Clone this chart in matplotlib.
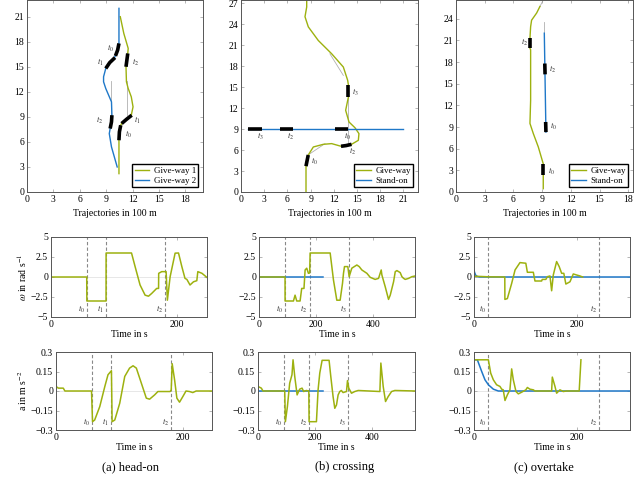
import numpy as np
import matplotlib.pyplot as plt
from matplotlib.transforms import offset_copy

plt.rcParams['font.family'] = ['Liberation Serif', 'DejaVu Serif']
plt.rcParams['mathtext.fontset'] = 'stix'
plt.rcParams['font.size'] = 7

GREEN = '#9db10f'
BLUE = '#1f78c8'
FRAME = '#555555'
W, H = 640, 482

# ---- trajectories (units of 100 m) ----
# head-on
hd_gw1_x = [10.45, 10.45, 10.5, 10.65, 10.75, 11.3, 11.85, 12.05, 11.85, 11.5, 11.3, 11.25, 11.35, 11.45, 11.5, 11.0, 10.6]
hd_gw1_y = [2.2, 6.2, 7.2, 8.0, 8.2, 8.7, 9.2, 10.2, 11.4, 12.4, 13.2, 15.0, 15.8, 16.6, 17.2, 19.0, 21.0]
hd_gw2_x = [10.45, 10.45, 10.3, 10.0, 9.4, 8.95, 8.7, 8.7, 8.95, 9.6, 9.65, 9.6, 9.45, 9.35, 9.6, 10.25]
hd_gw2_y = [22.0, 17.8, 17.0, 16.2, 15.5, 14.8, 13.8, 13.2, 12.4, 10.8, 9.2, 8.4, 7.6, 7.0, 5.4, 3.0]
hd_black = [([10.45, 10.5, 10.65], [6.2, 7.2, 8.0]),
            ([10.75, 11.3, 11.9], [8.2, 8.7, 9.2]),
            ([11.25, 11.35, 11.45], [15.0, 15.8, 16.6]),
            ([10.45, 10.3, 10.05], [17.8, 17.0, 16.3]),
            ([10.0, 9.4, 8.95], [16.1, 15.5, 14.8]),
            ([9.65, 9.6, 9.45], [9.2, 8.4, 7.6])]
hd_gray = [([9.5, 9.5], [9.0, 13.3]), ([11.35, 11.35], [9.2, 13.3])]
hd_tlabels = [(9.5, 17.2, 0), (8.3, 15.5, 1), (12.35, 15.5, 2),
              (8.3, 8.6, 2), (12.5, 8.6, 1), (11.5, 6.9, 0)]

# crossing
cr_gw_x = [8.41, 8.41, 8.55, 8.7, 9.36, 10.65, 11.73, 12.94, 13.6, 14.3, 15.18, 15.26, 14.75, 13.97, 13.54, 13.8, 13.9, 13.9, 13.8, 13.24, 11.73, 10.0, 8.71, 8.28, 8.5, 8.5]
cr_gw_y = [0.0, 3.7, 4.5, 5.3, 6.45, 6.83, 6.93, 6.55, 6.65, 6.83, 7.4, 8.36, 9.2, 10.03, 11.7, 13.1, 13.6, 15.3, 16.0, 17.9, 19.8, 21.7, 23.65, 25.1, 26.5, 27.5]
cr_so_x = [0.95, 21.0]
cr_so_y = [9.0, 9.0]
cr_black = [([8.41, 8.55, 8.7], [3.7, 4.5, 5.3]),
            ([12.94, 13.6, 14.3], [6.55, 6.65, 6.83]),
            ([13.9, 13.9], [13.6, 15.3]),
            ([0.95, 2.67], [9.0, 9.0]),
            ([5.05, 6.77], [9.0, 9.0]),
            ([12.16, 13.9], [9.0, 9.0])]
cr_gray = [([8.62, 10.87], [5.26, 6.93]), ([13.9, 13.9], [6.9, 13.6]),
           ([11.5, 13.24], [19.8, 16.7])]
cr_tlabels = [(2.46, 7.98, 3), (6.47, 8.0, 2), (13.8, 8.0, 0),
              (9.57, 4.44, 0), (14.45, 5.88, 2), (14.83, 14.2, 3)]

# overtake
ov_gw_x = [9.12, 9.12, 9.12, 8.6, 8.08, 7.73, 7.8, 7.8, 7.73, 7.73, 7.8, 7.9, 8.43, 8.77]
ov_gw_y = [0.46, 2.3, 3.9, 6.25, 8.1, 9.5, 12.7, 19.7, 19.9, 21.3, 22.9, 23.8, 24.8, 25.7]
ov_so_x = [9.23, 9.4]
ov_so_y = [22.0, 8.3]
ov_black = [([9.12, 9.12], [2.3, 3.9]),
            ([7.73, 7.73], [19.9, 21.3]),
            ([9.28, 9.31], [17.8, 16.3]),
            ([9.37, 9.4], [9.7, 8.3])]
ov_gray = [([8.77, 9.12], [25.7, 26.6]), ([9.23, 9.23], [22.0, 23.6])]
ov_tlabels = [(7.2, 20.7, 2), (10.1, 17.0, 2), (10.17, 9.1, 0), (10.0, 2.9, 0)]

# ---- yaw rate omega (rad/s) ----
hd_w_t = [0, 56.8, 57, 87.5, 87.6, 128, 133.7, 141.6, 149.6, 155, 160, 168, 171, 171.2, 176, 183, 185, 189.4, 197.3, 202.7, 208, 213, 216, 221, 226.5, 231.8, 233.4, 240, 247.7]
hd_w = [0, 0, -3, -3, 3, 3, 1.3, -1, -2.27, -2.4, -2.06, -1.43, -1.43, 0.46, 0.67, 0.67, -2.9, 0.04, 2.98, 3.0, 1.3, -0.17, -0.3, -1.0, -0.6, -0.46, 0.67, 0.46, -0.04]

cr_w_t = [0, 91.5, 91.6, 121, 126.7, 132.6, 144.3, 150, 158, 162, 167.7, 173.6, 178, 179.6, 250, 261.6, 273.3, 285, 293.3, 296.8, 300.3, 312, 316.7, 326, 343.7, 352, 361.3, 379, 390.6, 408, 420, 429.3, 431.7, 443.4, 455, 461, 472.7, 478.6, 484.5, 496, 502, 508, 513.8, 525.5, 537, 549]
cr_w = [0, 0, -3, -3, -2.27, -3, -3, -1.43, -1.43, 0.88, 1.1, 0.46, 0.5, 3, 3, -0.38, -2.9, -2.9, -0.8, 0.46, 1.3, 1.3, 0.04, 1.1, 1.5, 1.3, 0.88, 0.46, -0.04, -0.3, -0.17, 0.88, 0.25, -1.22, -2.8, -2.27, -0.6, 0.67, 0.8, 0.55, 0.04, -0.17, -0.3, -0.17, 0.04, 0.13]
cr_w_so_t = [0, 226]
cr_w_so = [0, 0]

ov_w_so_t = [0, 1, 3, 6, 10, 304]
ov_w_so = [0.88, 0.6, 0.25, 0.08, 0, 0]
ov_w_t = [0, 30, 60, 60.2, 65, 73.4, 80, 89.6, 101, 104, 115.6, 118.8, 131.8, 133, 140, 143, 148, 151.3, 154.5, 161, 166, 170.8, 175, 179, 187, 193.5, 200, 206.5, 211.7]
ov_w = [0.1, 0.02, 0, -2.8, -2.7, -0.8, 0.88, 1.8, 1.72, 0.59, 0.59, -0.5, -0.5, -0.3, -0.3, 0.04, 0.13, -1.72, 0.25, 1.93, 1.3, 0.46, 0.46, -0.88, -0.6, 0.38, 0.25, 0.13, 0]

# ---- acceleration (m/s^2) ----
hd_a_t = [0, 3.7, 11.5, 14, 56, 57.6, 61, 69, 77, 82, 87.4, 88.5, 92.7, 100.5, 108.4, 116, 121.5, 126.7, 134.6, 142.4, 147.6, 155.5, 160.7, 180, 181.7, 183.2, 187, 190.6, 194.8, 200, 205, 210.5, 215.7, 221, 245.5]
hd_a = [0.035, 0.022, 0.022, 0, 0, -0.236, -0.223, -0.12, 0.035, 0.125, 0.156, -0.236, -0.223, -0.094, 0.112, 0.176, 0.194, 0.176, 0.06, -0.055, -0.063, -0.03, -0.004, -0.004, 0.009, 0.21, 0.086, -0.055, -0.086, -0.043, 0, -0.004, -0.012, 0, 0]

cr_a_t = [0, 11.7, 17.5, 93.6, 96, 103, 111, 119, 122.8, 128.7, 137, 146, 154.4, 160, 169.6, 178, 179, 204.7, 210.5, 216.4, 224.6, 249, 255, 263, 269, 275, 280.7, 286.5, 292, 298, 310, 313.5, 318, 327.5, 339, 351, 427, 430.4, 438.6, 446.8, 456, 468, 479.5, 550]
cr_a = [0.035, 0.022, 0, 0, -0.236, -0.12, 0.06, 0.125, 0.24, 0.112, -0.03, 0.014, 0.022, -0.004, 0.004, 0, -0.236, -0.236, 0.009, 0.138, 0.236, 0.236, 0.112, -0.043, -0.133, -0.107, -0.03, -0.004, 0.004, -0.012, -0.004, 0.08, 0.022, -0.017, -0.004, 0.004, -0.004, 0.215, 0.035, -0.081, -0.043, -0.004, 0.004, 0]
cr_a_so_t = [0, 228]
cr_a_so = [0, 0]

ov_a_so_t = [0, 6.5, 15, 21.4, 28, 37.7, 47.4, 304]
ov_a_so = [0.24, 0.24, 0.15, 0.086, 0.048, 0.014, 0, 0]
ov_a_t = [0, 28, 32.5, 37.7, 44, 50.6, 54, 57, 60.4, 65, 70, 73.4, 76.6, 81.8, 86.4, 93, 101, 104, 109, 115.6, 118.8, 151.3, 152.6, 157.8, 161, 167.5, 174, 180.5, 205, 208.4]
ov_a = [0.24, 0.24, 0.138, 0.086, 0.048, 0.035, 0.014, 0.009, -0.073, -0.03, 0.009, 0.17, 0.086, -0.004, -0.022, -0.009, 0.009, 0.027, 0.014, 0.009, 0, 0, 0.107, 0.035, -0.017, 0.009, -0.004, 0, 0, 0.24]

# event times
hd_marks = [57, 87, 182]
hd_mark_ids = [0, 1, 2]
cr_marks = [92, 178, 315]
cr_mark_ids = [0, 2, 3]
ov_marks = [28, 244]
ov_mark_ids = [0, 2]

subcaptions = ['(a) head-on', '(b) crossing', '(c) overtake']


def rect(l, r, t, b):
    return [l / W, 1 - b / H, (r - l) / W, (b - t) / H]


def style(ax):
    for s in ax.spines.values():
        s.set_color(FRAME)
        s.set_linewidth(0.7)
    ax.tick_params(direction='in', length=2.5, width=0.5, color='#999999',
                   top=True, right=True, labelsize=7, pad=2)


def traj(ax, paths, black, gray, labels, xlim, ylim, xt, yt):
    for (x, y, c, n) in paths:
        ax.plot(x, y, color=c, lw=1.0, label=n, zorder=2)
    for (x, y) in gray:
        ax.plot(x, y, color='#b0b0b0', lw=0.6, zorder=1)
    for (x, y) in black:
        ax.plot(x, y, color='black', lw=2.6, solid_capstyle='butt', zorder=3)
    for (x, y, k) in labels:
        ax.text(x, y, r'$t_%d$' % k, fontsize=6, ha='center', va='center', color='#333333')
    ax.set_xlim(*xlim)
    ax.set_ylim(*ylim)
    ax.set_xticks(xt)
    ax.set_yticks(yt)
    ax.set_xlabel('Trajectories in 100 m', fontsize=7, labelpad=4)
    style(ax)
    ax.legend(loc='lower right', fontsize=6.5, handlelength=1.6, borderpad=0.3,
              labelspacing=0.15, fancybox=False, edgecolor='black', framealpha=1,
              borderaxespad=0.5, handletextpad=0.5)


def series(ax, lines, marks, ids, xlim, ylim, yt, ylab, xlab, ytl):
    ax.axhline(0, color='#dddddd', lw=0.5, zorder=0)
    for (t, v, c) in lines:
        ax.plot(t, v, color=c, lw=1.1, zorder=2)
    for m, k in zip(marks, ids):
        ax.axvline(m, color='#888888', lw=0.8, dashes=(3, 2), zorder=1)
        tr = offset_copy(ax.get_xaxis_transform(), fig=ax.figure, x=-1.5, y=0, units='points')
        ax.text(m, 0.03, r'$t_%d$' % k, transform=tr, ha='right', va='bottom',
                fontsize=6, color='#333333')
    ax.set_xlim(*xlim)
    ax.set_ylim(*ylim)
    ax.set_yticks(yt)
    ax.set_yticklabels(ytl)
    ax.set_xticks([x for x in [0, 200, 400] if x <= xlim[1]])
    ax.set_xlabel(xlab, fontsize=7, labelpad=1)
    ax.set_ylabel(ylab, fontsize=7, labelpad=1)
    style(ax)


fig = plt.figure(figsize=(6.4, 4.82), dpi=100)

ax = fig.add_axes(rect(27, 203, 0, 192))
traj(ax, [(hd_gw1_x, hd_gw1_y, GREEN, 'Give-way 1'), (hd_gw2_x, hd_gw2_y, BLUE, 'Give-way 2')],
     hd_black, hd_gray, hd_tlabels, (0, 20), (0, 23), range(0, 19, 3), range(0, 22, 3))

ax = fig.add_axes(rect(241, 418, 0, 192))
traj(ax, [(cr_gw_x, cr_gw_y, GREEN, 'Give-way'), (cr_so_x, cr_so_y, BLUE, 'Stand-on')],
     cr_black, cr_gray, cr_tlabels, (0, 22.9), (0, 27.5), range(0, 22, 3), range(0, 28, 3))

ax = fig.add_axes(rect(456, 633, 0, 192))
traj(ax, [(ov_gw_x, ov_gw_y, GREEN, 'Give-way'), (ov_so_x, ov_so_y, BLUE, 'Stand-on')],
     ov_black, ov_gray, ov_tlabels, (0, 18.5), (0, 26.6), range(0, 19, 3), range(0, 25, 3))

w_ticks = [-5, -2.5, 0, 2.5, 5]
w_tl = ['\u22125', '\u22122.5', '0', '2.5', '5']
a_ticks = [-0.3, -0.15, 0, 0.15, 0.3]
a_tl = ['\u22120.3', '\u22120.15', '0', '0.15', '0.3']
w_lab = r'$\omega$ in rad s$^{-1}$'
a_lab = r'a in m s$^{-2}$'

ax = fig.add_axes(rect(51, 207, 237, 317))
series(ax, [(hd_w_t, hd_w, GREEN)], hd_marks, hd_mark_ids, (0, 248), (-5, 5), w_ticks, w_lab, 'Time in s', w_tl)
ax = fig.add_axes(rect(259, 415, 237, 317))
series(ax, [(cr_w_so_t, cr_w_so, BLUE), (cr_w_t, cr_w, GREEN)], cr_marks, cr_mark_ids, (0, 548), (-5, 5), w_ticks, '', 'Time in s', w_tl)
ax = fig.add_axes(rect(474, 630, 237, 317))
series(ax, [(ov_w_so_t, ov_w_so, BLUE), (ov_w_t, ov_w, GREEN)], ov_marks, ov_mark_ids, (0, 304), (-5, 5), w_ticks, '', 'Time in s', w_tl)

ax = fig.add_axes(rect(56, 212, 352, 430))
series(ax, [(hd_a_t, hd_a, GREEN)], hd_marks, hd_mark_ids, (0, 246), (-0.3, 0.3), a_ticks, a_lab, 'Time in s', a_tl)
ax = fig.add_axes(rect(258, 415, 352, 430))
series(ax, [(cr_a_so_t, cr_a_so, BLUE), (cr_a_t, cr_a, GREEN)], cr_marks, cr_mark_ids, (0, 550), (-0.3, 0.3), a_ticks, '', 'Time in s', a_tl)
ax = fig.add_axes(rect(474, 630, 352, 430))
series(ax, [(ov_a_so_t, ov_a_so, BLUE), (ov_a_t, ov_a, GREEN)], ov_marks, ov_mark_ids, (0, 304), (-0.3, 0.3), a_ticks, '', 'Time in s', a_tl)

for xc, s in zip([130, 345, 544], subcaptions):
    fig.text(xc / W, 1 - 467 / H, s, ha='center', va='center', fontsize=9)

fig.savefig('out.png', dpi=100)
